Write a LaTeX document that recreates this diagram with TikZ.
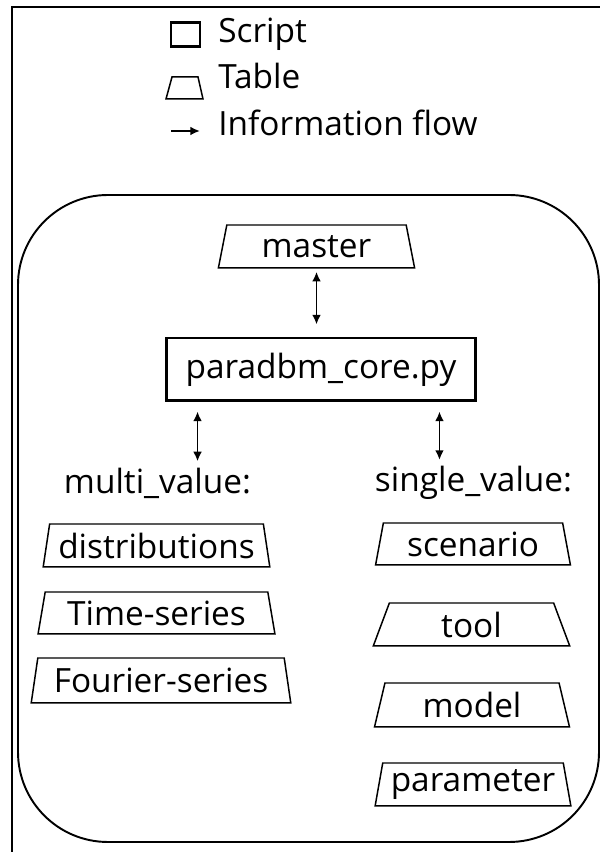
\documentclass[tikz,border=0pt]{standalone}
\usepackage{fontspec}
\setmainfont{Open Sans}
\usetikzlibrary{shapes.geometric,arrows.meta}

\tikzset{
  table/.style={draw, line width=0.85pt, trapezium, trapezium stretches=true,
    trapezium left angle=77, trapezium right angle=77, inner sep=0pt},
  script/.style={draw, line width=1.7pt, rectangle, inner sep=0pt},
  flow/.style={<->, line width=1.1pt},
  grouplabel/.style={inner sep=0pt}
}

\begin{document}
\begin{tikzpicture}[x=0.02cm, y=0.02cm, font=\fontsize{19}{23}\selectfont]
    \tikzset{>={Latex[length=5.5pt,width=5pt]}}
    \useasboundingbox (0,0) rectangle (600,852);
    % frame
    \draw [line width=1.1pt] (12,0) -- (12,845) -- (600,845);
    % legend
    \draw [line width=1.7pt] (171,805) rectangle (200,829);
    \draw [line width=0.85pt] (166,753) -- (172,775) -- (198,775) -- (203,753) -- cycle;
    \coordinate (keyfrom) at (171,721);
    \coordinate (keyto) at (200,721);
    \draw [->, line width=1.1pt] (keyfrom) -- (keyto);
    \node [anchor=base west, inner sep=0pt] (txtscript) at (218,809) {Script};
    \node [anchor=base west, inner sep=0pt] (txttable) at (218,763) {Table};
    \node [anchor=base west, inner sep=0pt] (txtflow) at (218,716) {Information flow};
    % database box
    \draw [line width=1.1pt, rounded corners=1.8cm] (18,10) rectangle (599,657);
    \node [table, minimum width=3.94cm, minimum height=0.86cm] (master) at (316.5,605.5) {master};
    \node [script, minimum width=6.2cm, minimum height=1.26cm] (core) at (321,482.5) {paradbm\_core.py};
    \draw [flow, shorten <=0.06cm, shorten >=0.24cm] (master.south) -- (master.south |- core.north);
    % value groups
    \node [grouplabel] (multi) at (157.5,369) {multi\_value:};
    \node [grouplabel] (single) at (473.5,369) {single\_value:};
    \coordinate (leftdrop) at ([xshift=0.66cm]core.south west);
    \coordinate (rightdrop) at ([xshift=-0.76cm]core.south east);
    \draw [flow, shorten <=0.18cm, shorten >=0.12cm] (leftdrop) -- (leftdrop |- multi.north);
    \draw [flow, shorten <=0.18cm, shorten >=0.12cm] (rightdrop) -- (rightdrop |- single.north);
    \node [table, minimum width=4.54cm, minimum height=0.86cm] (distr) at (156.5,306.5) {distributions};
    \node [table, minimum width=4.74cm, minimum height=0.84cm] (timeser) at (156.5,239) {Time-series};
    \node [table, minimum width=5.2cm, minimum height=0.9cm] (fourier) at (161,171.5) {Fourier-series};
    \node [table, minimum width=3.92cm, minimum height=0.84cm] (scenario) at (473,308) {scenario};
    \node [table, minimum width=3.94cm, minimum height=0.86cm] (tool) at (471.5,227.5) {tool};
    \node [table, minimum width=3.92cm, minimum height=0.88cm] (model) at (472,147) {model};
    \node [table, minimum width=3.92cm, minimum height=0.86cm] (param) at (473,67.5) {parameter};
\end{tikzpicture}
\end{document}
